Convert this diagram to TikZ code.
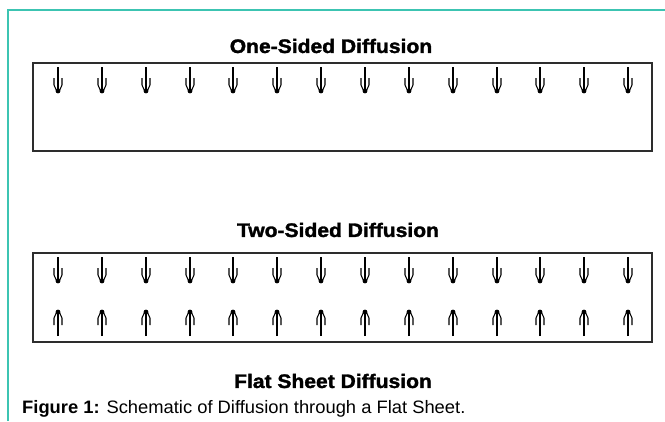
\documentclass[tikz,border=0pt]{standalone}
\usepackage{fontspec}
\usepackage{graphicx}
\setmainfont{Liberation Sans}
\newfontfamily\heavyfont[BoldFont={Liberation Sans Bold},BoldFeatures={FakeBold=1.6}]{Liberation Sans}
\definecolor{frameteal}{RGB}{60,196,178}
\definecolor{boxgray}{RGB}{45,45,45}
\begin{document}
\begin{tikzpicture}[x=1pt,y=-1pt,
  frame/.style={draw=frameteal,line width=1.6pt},
  sheet/.style={draw=boxgray,line width=1.5pt},
  title/.style={font=\heavyfont\bfseries\fontsize{19.5}{22}\selectfont,text=black,inner sep=0pt},
  dhead/.pic={
    \draw[line width=1.3pt] (0,-26) -- (0,0);
    \draw[line width=1.05pt] (-4,-15) -- (-4,-8) -- (-1.3,-2);
    \draw[line width=1.05pt] (4,-15) -- (4,-8) -- (1.3,-2);
    \fill (0,-2) circle (2.4);
  }]
\useasboundingbox (0,0) rectangle (665,421);
\fill[white] (0,0) rectangle (665,421);
% teal frame
\draw[frame] (8,421) -- (8,10) -- (665,10);
% titles
\node[title] (t1) at (331,46) {\scalebox{1.08}[1]{One-Sided Diffusion}};
\node[title] (t2) at (338,230) {\scalebox{1.08}[1]{Two-Sided Diffusion}};
\node[title] (t3) at (333,381) {\scalebox{1.08}[1]{Flat Sheet Diffusion}};
% sheets
\draw[sheet] (33,63) rectangle (652,151);
\draw[sheet] (33,253) rectangle (652,342);
% arrows
\foreach \i in {0,...,13}{
  \pic at ({round(58+\i*43.85)},93) {dhead};
  \pic at ({round(58+\i*43.85)},283) {dhead};
  \pic[yscale=-1] at ({round(58+\i*43.85)},310) {dhead};
}
% caption
\node[anchor=base west,inner sep=0pt,font=\fontsize{18}{20}\selectfont] (cap) at (22,413)
  {\scalebox{1.02}[1]{\textbf{Figure 1:} Schematic of Diffusion through a Flat Sheet.}};
\end{tikzpicture}
\end{document}
